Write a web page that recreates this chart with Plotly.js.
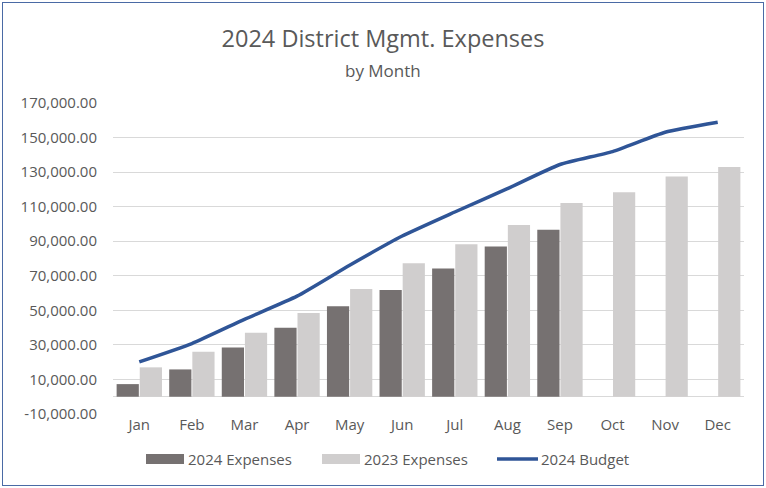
<!DOCTYPE html>
<html><head><meta charset="utf-8">
<script src="https://cdn.plot.ly/plotly-3.0.1.min.js"></script>
<style>
body{margin:0;padding:0;background:#fff;}
#wrap{position:relative;width:766px;height:488px;}
#chart{position:absolute;left:0;top:0;width:766px;height:488px;}
#border{position:absolute;left:2px;top:2px;width:760px;height:482px;border:1.5px solid #4A6AA5;pointer-events:none;}
</style></head>
<body><div id="wrap"><div id="chart"></div><div id="border"></div></div>
<script>
const months = ["Jan","Feb","Mar","Apr","May","Jun","Jul","Aug","Sep","Oct","Nov","Dec"];
const expenses2024 = [7300,15800,28500,39900,52400,61800,74200,86900,96700,null,null,null];
const expenses2023 = [17000,26000,37000,48400,62400,77200,88200,99400,112100,118400,127500,132900];
const budget2024 = [20200,30800,44800,58200,76100,93000,106900,120400,134400,141900,153100,158900];
const yTickVals = [-10000,10000,30000,50000,70000,90000,110000,130000,150000,170000];
const yTickText = ["-10,000.00","10,000.00","30,000.00","50,000.00","70,000.00","90,000.00","110,000.00","130,000.00","150,000.00","170,000.00"];
const legendNames = ["2024 Expenses","2023 Expenses","2024 Budget"];

const C1 = "#767171", C2 = "#D0CECE", C3 = "#2F5597";
const FONT = "Open Sans";
const TXT = "#595959";

const traces = [
  {type:"bar", x:months, y:expenses2024, name:legendNames[0], marker:{color:C1}, hoverinfo:"y"},
  {type:"bar", x:months, y:expenses2023, name:legendNames[1], marker:{color:C2}, hoverinfo:"y"},
  {type:"scatter", mode:"lines", x:months, y:budget2024, name:legendNames[2],
   line:{color:C3, width:3.5, shape:"spline", smoothing:0.5}, hoverinfo:"y"}
];

// manual legend (wide swatches, like the original)
const legendItems = [
  {x0:146, x1:184, type:"rect", color:C1, tx:186},
  {x0:322, x1:360, type:"rect", color:C2, tx:362},
  {x0:497, x1:538, type:"line", color:C3, tx:539}
];
const W = 766, H = 488;
const M = {l:113, r:22, t:103, b:74};
const pw = W - M.l - M.r, ph = H - M.t - M.b;
const px = v => (v - M.l) / pw;
const py = v => (H - M.b - v) / ph;
const shapes = [], annotations = [];
const ly = 459;
legendItems.forEach((it, i) => {
  if (it.type === "rect") {
    shapes.push({type:"rect", xref:"paper", yref:"paper", x0:px(it.x0), x1:px(it.x1), y0:py(ly+5), y1:py(ly-5), fillcolor:it.color, line:{width:0}});
  } else {
    shapes.push({type:"line", xref:"paper", yref:"paper", x0:px(it.x0), x1:px(it.x1), y0:py(ly), y1:py(ly), line:{color:it.color, width:3.5}});
  }
  annotations.push({xref:"paper", yref:"paper", x:px(it.tx), y:py(ly), xanchor:"left", yanchor:"middle", showarrow:false, text:legendNames[i], font:{family:FONT, size:15, color:TXT}});
});
annotations.push({xref:"paper", yref:"paper", x:px(383), xanchor:"center", y:py(71), yanchor:"middle", showarrow:false, text:"by Month", font:{family:FONT, size:17, color:TXT}});

const layout = {
  width:W, height:H,
  margin:M,
  paper_bgcolor:"#fff", plot_bgcolor:"#fff",
  showlegend:false,
  barmode:"group", bargap:0.12, bargroupgap:0.04,
  title:{text:"2024 District Mgmt. Expenses", x:0.5, xref:"container", xanchor:"center", yref:"container", y:1-39/H, yanchor:"middle", font:{family:FONT, size:23.5, color:TXT}},
  xaxis:{type:"category", showgrid:false, zeroline:false, showline:false, ticks:"",
         tickfont:{family:FONT, size:15, color:TXT}, ticklabelstandoff:0, fixedrange:true},
  yaxis:{range:[-10000,170000], tickvals:yTickVals, ticktext:yTickText, showgrid:true, gridcolor:"#D9D9D9", gridwidth:1,
         zeroline:true, zerolinecolor:"#D9D9D9", zerolinewidth:1, showline:false, ticks:"",
         tickfont:{family:FONT, size:15, color:TXT}, ticklabelstandoff:15, fixedrange:true},
  shapes:shapes, annotations:annotations,
  font:{family:FONT}
};
Plotly.newPlot("chart", traces, layout, {displayModeBar:false, staticPlot:true});
</script></body></html>
